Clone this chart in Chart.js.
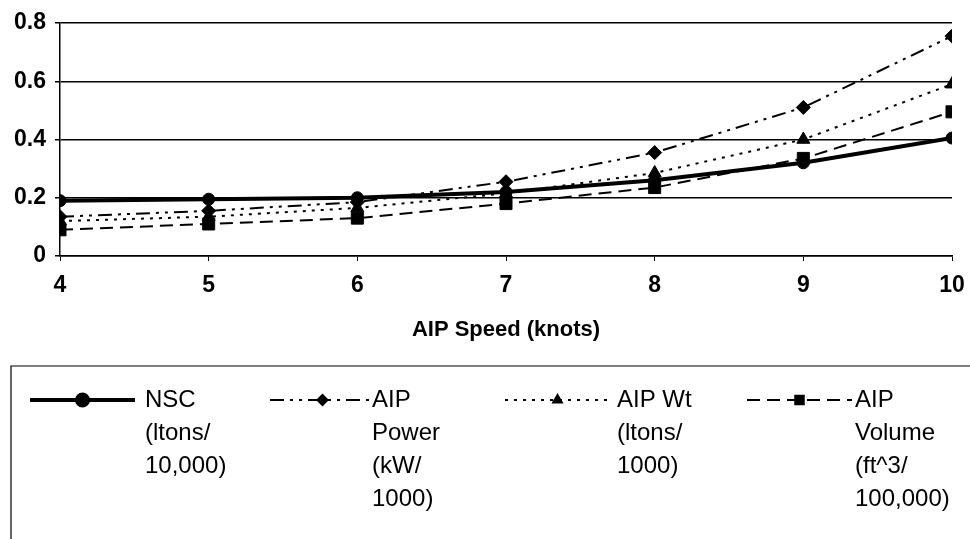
<!DOCTYPE html>
<html>
<head>
<meta charset="utf-8">
<script src="https://cdn.jsdelivr.net/npm/chart.js@4/dist/chart.umd.min.js"></script>
<style>
  html, body { margin: 0; padding: 0; background: #fff; }
  #wrap { width: 970px; height: 539px; }
</style>
</head>
<body>
<div id="wrap"><canvas id="speedChart" width="970" height="539"></canvas></div>
<script>
// AIP speed (knots) on x, scaled quantities on y
const speeds = [4, 5, 6, 7, 8, 9, 10];
const nsc = [0.19, 0.195, 0.2, 0.22, 0.26, 0.32, 0.405];
const aipPower = [0.135, 0.155, 0.185, 0.255, 0.355, 0.51, 0.755];
const aipWt = [0.12, 0.135, 0.165, 0.215, 0.285, 0.4, 0.59];
const aipVolume = [0.09, 0.11, 0.13, 0.18, 0.235, 0.335, 0.495];

const legendLabels = [
  ["NSC", "(ltons/", "10,000)"],
  ["AIP", "Power", "(kW/", "1000)"],
  ["AIP Wt", "(ltons/", "1000)"],
  ["AIP", "Volume", "(ft^3/", "100,000)"]
];

const FONT = "'Liberation Sans', Arial, sans-serif";
const toXY = arr => arr.map((v, i) => ({ x: speeds[i], y: v }));

const series = [
  { label: "NSC", data: toXY(nsc), width: 4, dash: [], style: "circle", r: 6, lr: 5.5 },
  { label: "AIP Power", data: toXY(aipPower), width: 2, dash: [14, 6, 3, 6, 3, 6], style: "rectRot", r: 7, lr: 5 },
  { label: "AIP Wt", data: toXY(aipWt), width: 2, dash: [3, 6], style: "triangle", r: 7.5, lr: 5 },
  { label: "AIP Volume", data: toXY(aipVolume), width: 2, dash: [13, 7], style: "rect", r: 8.5, lr: 6 }
];

// legend drawn inside the bottom padding, text wraps over several lines
const boxLegend = {
  id: "boxLegend",
  afterDraw(chart) {
    const ctx = chart.ctx;
    ctx.save();
    ctx.strokeStyle = "#000";
    ctx.lineWidth = 1.2;
    ctx.beginPath();
    ctx.moveTo(11, 539);
    ctx.lineTo(11, 366);
    ctx.lineTo(970, 366);
    ctx.stroke();

    const sampleX = [30, 270, 505, 747];
    const textX = [145, 372, 617, 855];
    const rowY = 400, rowH = 33;
    series.forEach((s, i) => {
      const x0 = sampleX[i], x1 = x0 + 105;
      ctx.strokeStyle = "#000";
      ctx.lineWidth = s.width;
      ctx.setLineDash(s.dash);
      ctx.beginPath();
      ctx.moveTo(x0, rowY);
      ctx.lineTo(x1, rowY);
      ctx.stroke();
      ctx.setLineDash([]);
      ctx.fillStyle = "#000";
      Chart.helpers.drawPoint(ctx, { pointStyle: s.style, radius: s.lr, borderWidth: 1, rotation: 0 }, (x0 + x1) / 2, rowY);
      ctx.fill();

      ctx.font = "24px " + FONT;
      ctx.textBaseline = "middle";
      ctx.textAlign = "left";
      legendLabels[i].forEach((line, j) => ctx.fillText(line, textX[i], rowY + j * rowH));
    });
    ctx.restore();
  }
};

new Chart(document.getElementById("speedChart"), {
  type: "line",
  data: {
    datasets: series.map(s => ({
      label: s.label,
      data: s.data,
      borderColor: "#000",
      backgroundColor: "#000",
      borderWidth: s.width,
      borderDash: s.dash,
      pointStyle: s.style,
      pointRadius: s.r,
      pointBorderWidth: 1,
      pointBackgroundColor: "#000",
      pointBorderColor: "#000",
      tension: 0,
      fill: false
    })).reverse()
  },
  options: {
    responsive: false,
    animation: false,
    layout: { padding: { top: 23, right: 0, left: 0, bottom: 196 } },
    plugins: {
      legend: { display: false },
      tooltip: { enabled: false }
    },
    scales: {
      x: {
        type: "linear",
        min: 4,
        max: 10,
        ticks: { stepSize: 1, color: "#000", padding: 11, font: { family: FONT, size: 23, weight: "bold" } },
        grid: { drawOnChartArea: false, drawTicks: true, tickLength: 5, color: "#000" },
        border: { display: true, color: "#000", width: 1.5 },
        title: {
          display: true,
          text: "AIP Speed (knots)",
          color: "#000",
          padding: 0,
          font: { family: FONT, size: 22, weight: "bold" }
        },
        afterFit: scale => {
          scale.height = 87;
          scale.paddingLeft = 0;
          scale.paddingRight = 18;
        }
      },
      y: {
        min: 0,
        max: 0.8,
        ticks: {
          stepSize: 0.2,
          color: "#000",
          padding: 9,
          font: { family: FONT, size: 23, weight: "bold" },
          callback: v => (v === 0 ? "0" : v.toFixed(1))
        },
        grid: { color: "#000", lineWidth: 1.5, tickLength: 5 },
        border: { display: true, color: "#000", width: 1.5 },
        afterFit: scale => { scale.width = 60; }
      }
    }
  },
  plugins: [boxLegend]
});
</script>
</body>
</html>
